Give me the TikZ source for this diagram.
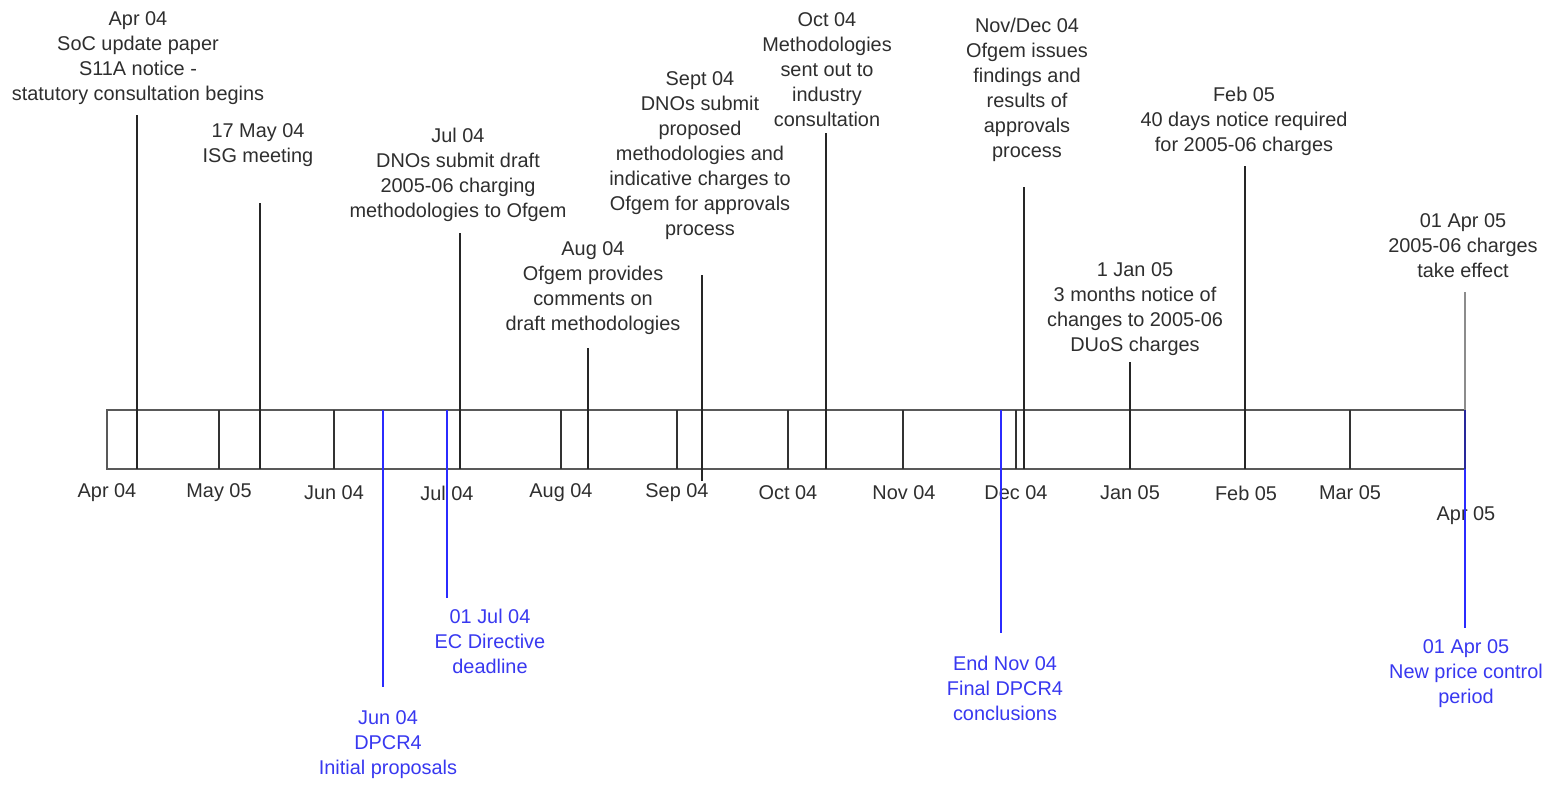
\documentclass[tikz,border=0pt]{standalone}
\usepackage{fontspec}
\setmainfont{Liberation Sans}
\definecolor{txt}{HTML}{2E2E2E}
\definecolor{bltxt}{HTML}{3838F0}
\definecolor{blline}{HTML}{2B2BFF}
\definecolor{navyl}{HTML}{28289A}
\begin{document}
\begin{tikzpicture}[x=1pt,y=-1pt,
  lbl/.style={align=center,text=txt,font=\fontsize{19.9}{25}\selectfont,inner sep=0pt},
  blbl/.style={lbl,text=bltxt},
  evline/.style={draw=black!85,line width=1.8pt},
  grayline/.style={draw=black!45,line width=2.6pt},
  monthtick/.style={draw=black!80,line width=1.6pt},
  blueline/.style={draw=blline,line width=1.8pt},
  barbox/.style={draw=black!65,line width=2pt,fill=white},
  mon/.style={text=txt,font=\fontsize{19.9}{25}\selectfont,inner sep=0pt}]
\useasboundingbox (0,0) rectangle (1546,784);

% bar
\draw[barbox] (107,410) coordinate (barNW) rectangle (1465,469) coordinate (barSE);

% month ticks
\foreach \n/\x in {may/219,jun/334,jul/447,aug/561,sep/677,oct/788,nov/903,dec/1016,jan/1130,feb/1245,mar/1350}{
  \coordinate (t\n a) at (\x,410);
  \coordinate (t\n b) at (\x,469);
  \draw[monthtick] (t\n a) -- (t\n b);
}

% month labels
\node[mon] (mApr4) at (107,493) {Apr 04};
\node[mon] (mMay) at (219,493) {May 05};
\node[mon] (mJun) at (334,493) {Jun 04};
\node[mon] (mJul) at (447,493) {Jul 04};
\node[mon] (mAug) at (561,493) {Aug 04};
\node[mon] (mSep) at (677,493) {Sep 04};
\node[mon] (mOct) at (788,493) {Oct 04};
\node[mon] (mNov) at (904,493) {Nov 04};
\node[mon] (mDec) at (1016,493) {Dec 04};
\node[mon] (mJan) at (1130,493) {Jan 05};
\node[mon] (mFeb) at (1246,493) {Feb 05};
\node[mon] (mMar) at (1350,493) {Mar 05};
\node[mon] (mApr5) at (1466,516) {Apr 05};

% upper event labels
\node[lbl] (eApr) at (138,58) {Apr 04\\SoC update paper\\S11A notice -\\statutory consultation begins};
\node[lbl] (eMay) at (258,145) {17 May 04\\ISG meeting};
\node[lbl] (eJul) at (458,175) {Jul 04\\DNOs submit draft\\2005-06 charging\\methodologies to Ofgem};
\node[lbl] (eAug) at (593,288) {Aug 04\\Ofgem provides\\comments on\\draft methodologies};
\node[lbl] (eSep) at (700,156) {Sept 04\\DNOs submit\\proposed\\methodologies and\\indicative charges to\\Ofgem for approvals\\process};
\node[lbl] (eOct) at (827,70) {Oct 04\\Methodologies\\sent out to\\industry\\consultation};
\node[lbl] (eND) at (1027,90) {Nov/Dec 04\\Ofgem issues\\findings and\\results of\\approvals\\process};
\node[lbl] (eFeb) at (1244,121) {Feb 05\\40 days notice required\\for 2005-06 charges};
\node[lbl] (eJan) at (1135,309) {1 Jan 05\\3 months notice of\\changes to 2005-06\\DUoS charges};
\node[lbl] (eApr5) at (1463,246) {01 Apr 05\\2005-06 charges\\take effect};

% lower (blue) labels
\node[blbl] (bJun) at (388,745) {Jun 04\\DPCR4\\Initial proposals};
\node[blbl] (bJul) at (490,641) {01 Jul 04\\EC Directive\\deadline};
\node[blbl] (bNov) at (1005,688) {End Nov 04\\Final DPCR4\\conclusions};
\node[blbl] (bApr) at (1466,674) {01 Apr 05\\New price control\\period};

% event line ends
\coordinate (lApr) at (137,115);   \coordinate (lAprE) at (137,469);
\coordinate (lMay) at (260,203);   \coordinate (lMayE) at (260,469);
\coordinate (lJul) at (460,233);   \coordinate (lJulE) at (460,469);
\coordinate (lAug) at (588,348);   \coordinate (lAugE) at (588,469);
\coordinate (lSep) at (702,275);   \coordinate (lSepE) at (702,481);
\coordinate (lOct) at (826,133);   \coordinate (lOctE) at (826,469);
\coordinate (lND) at (1024,187);   \coordinate (lNDE) at (1024,469);
\coordinate (lJan) at (1130,362);  \coordinate (lJanE) at (1130,469);
\coordinate (lFeb) at (1245,166);  \coordinate (lFebE) at (1245,469);
\coordinate (lApr5) at (1465,292); \coordinate (lApr5E) at (1465,410);

\foreach \a in {Apr,May,Jul,Aug,Sep,Oct,ND,Jan,Feb}{
  \draw[evline] (l\a) -- (l\a E);
}
\draw[grayline] (lApr5) -- (lApr5E);

% blue lines
\coordinate (bJunT) at (383,410);  \coordinate (bJunE) at (383,687);
\coordinate (bJulT) at (447,410);  \coordinate (bJulE) at (447,598);
\coordinate (bNovT) at (1001,410); \coordinate (bNovE) at (1001,633);
\coordinate (bAprT) at (1465,469); \coordinate (bAprE) at (1465,628);
\coordinate (bAprB) at (1465,410);
\draw[blueline] (bJunT) -- (bJunE);
\draw[blueline] (bJulT) -- (bJulE);
\draw[blueline] (bNovT) -- (bNovE);
\draw[blueline] (bAprT) -- (bAprE);
\draw[draw=navyl,line width=2.2pt] (bAprB) -- (bAprT);
\end{tikzpicture}
\end{document}
